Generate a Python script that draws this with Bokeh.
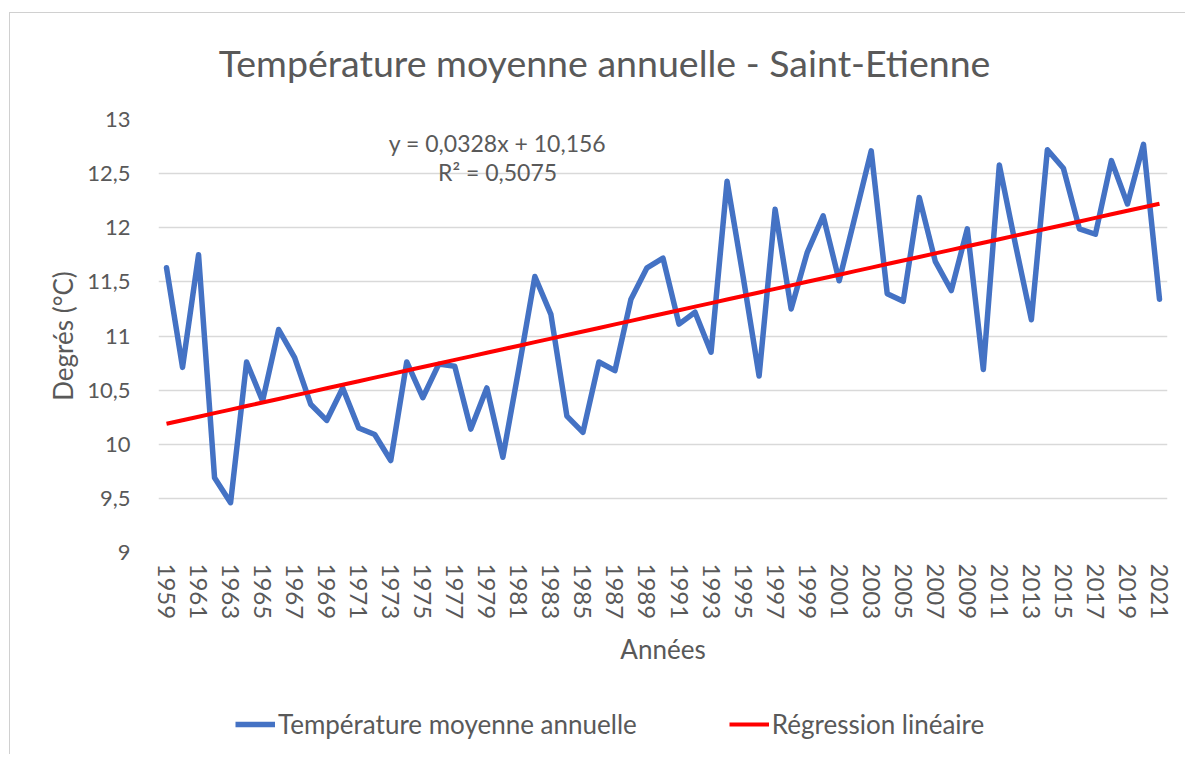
from bokeh.plotting import figure
from bokeh.layouts import column
from bokeh.models import (Label, Legend, LegendItem, FixedTicker,
                          CustomJSTickFormatter, Range1d)
from bokeh.embed import file_html
from bokeh.resources import INLINE

# ---------------- data ----------------
years = list(range(1959, 2022))
temperature = [
    11.63, 10.71, 11.75, 9.69, 9.46, 10.76, 10.40, 11.06, 10.80, 10.37,   # 1959-1968
    10.22, 10.52, 10.15, 10.09, 9.85, 10.76, 10.43, 10.74, 10.72, 10.14,   # 1969-1978
    10.52, 9.88, 10.70, 11.55, 11.20, 10.26, 10.11, 10.76, 10.68, 11.34,   # 1979-1988
    11.63, 11.72, 11.11, 11.22, 10.85, 12.43, 11.55, 10.63, 12.17, 11.25,  # 1989-1998
    11.77, 12.11, 11.51, 12.11, 12.71, 11.39, 11.32, 12.28, 11.69, 11.42,  # 1999-2008
    11.99, 10.69, 12.58, 11.85, 11.15, 12.72, 12.55, 11.99, 11.94, 12.62,  # 2009-2018
    12.22, 12.77, 11.34,                                                   # 2019-2021
]
reg_slope = 0.0328
reg_intercept = 10.156
y_ticks = [9, 9.5, 10, 10.5, 11, 11.5, 12, 12.5, 13]
x_ticks = years[::2]

title_text = "Température moyenne annuelle - Saint-Etienne"
equation_text = "y = 0,0328x + 10,156"
r2_text = "R² = 0,5075"
series_label = "Température moyenne annuelle"
reg_label = "Régression linéaire"
x_title = "Années"
y_title = "Degrés (°C)"

# regression line from the displayed equation (x = 1 for the first year)
reg_values = [reg_intercept + reg_slope * (yr - years[0] + 1) for yr in years]

# ---------------- style ----------------
FONT = "Lato"
GREY = "#595959"
GRID = "#d9d9d9"
BLUE = "#4472C4"
RED = "#FF0000"
EDGE = "1px solid #d0d0d0"

# ---------------- title strip (frame aligned with the chart by the column) ----------------
p0 = figure(width=1176, height=80, output_backend="svg", toolbar_location=None,
            x_range=Range1d(1958.5, 2021.5), y_range=Range1d(0, 1),
            x_axis_type=None, y_axis_type=None, min_border=0)
p0.styles = {"border-left": EDGE, "border-top": EDGE,
             "margin-top": "12px", "margin-left": "9px"}
p0.outline_line_color = None
p0.background_fill_color = "white"
p0.border_fill_color = "white"
p0.add_layout(Label(x=1986.35, y=0.39, text=title_text, text_align="center",
                    text_baseline="middle", text_font=FONT, text_font_size="37.5px",
                    text_color=GREY))

# ---------------- main chart ----------------
p = figure(width=1176, height=597, output_backend="svg", toolbar_location=None,
           x_range=p0.x_range, y_range=Range1d(9, 13),
           min_border_left=148, min_border_right=19,
           min_border_top=27, min_border_bottom=137)
p.styles = {"border-left": EDGE, "margin-left": "9px"}
p.outline_line_color = None
p.background_fill_color = "white"
p.border_fill_color = "white"

line_t = p.line(years, temperature, line_color=BLUE, line_width=5.5,
                line_join="round", line_cap="round")
line_r = p.line(years, reg_values, line_color=RED, line_width=4)

# x axis
p.xaxis.ticker = FixedTicker(ticks=x_ticks)
p.xaxis.major_label_orientation = "vertical"
p.xaxis.axis_line_color = None
p.xaxis.major_tick_line_color = None
p.xaxis.minor_tick_line_color = None
p.xaxis.major_label_standoff = 5
p.xaxis.major_label_text_font = FONT
p.xaxis.major_label_text_font_size = "24px"
p.xaxis.major_label_text_color = GREY
p.xaxis.axis_label = x_title
p.xaxis.axis_label_standoff = 11
p.xaxis.axis_label_text_font = FONT
p.xaxis.axis_label_text_font_size = "26px"
p.xaxis.axis_label_text_font_style = "normal"
p.xaxis.axis_label_text_color = GREY

# y axis
p.yaxis.ticker = FixedTicker(ticks=y_ticks)
p.yaxis.formatter = CustomJSTickFormatter(code="return tick.toString().replace('.', ',');")
p.yaxis.axis_line_color = None
p.yaxis.major_tick_line_color = None
p.yaxis.minor_tick_line_color = None
p.yaxis.major_label_standoff = 22
p.yaxis.major_label_text_font = FONT
p.yaxis.major_label_text_font_size = "22px"
p.yaxis.major_label_text_color = GREY
p.yaxis.axis_label = y_title
p.yaxis.axis_label_standoff = 5
p.yaxis.axis_label_text_font = FONT
p.yaxis.axis_label_text_font_size = "26px"
p.yaxis.axis_label_text_font_style = "normal"
p.yaxis.axis_label_text_color = GREY

# grid
p.xgrid.visible = False
p.ygrid.grid_line_color = GRID
p.ygrid.grid_line_width = 1.5

# regression text
p.add_layout(Label(x=1979.67, y=12.787, text=equation_text, text_align="center",
                   text_baseline="middle", text_font=FONT, text_font_size="23px",
                   text_color=GREY))
p.add_layout(Label(x=1979.67, y=12.519, text=r2_text, text_align="center",
                   text_baseline="middle", text_font=FONT, text_font_size="23px",
                   text_color=GREY))

# ---------------- legend strip under the chart ----------------
p2 = figure(width=1176, height=65, output_backend="svg", toolbar_location=None,
            x_range=Range1d(0, 1), y_range=Range1d(0, 1),
            x_axis_type=None, y_axis_type=None, min_border=0)
p2.styles = {"border-left": EDGE, "margin-left": "9px"}
p2.outline_line_color = None
p2.background_fill_color = "white"
p2.border_fill_color = "white"
# same series, outside this strip's view: only their legend glyphs show
leg_t = p2.line(years, temperature, line_color=BLUE, line_width=5.5)
leg_r = p2.line(years, reg_values, line_color=RED, line_width=4)

legend = Legend(items=[LegendItem(label=series_label, renderers=[leg_t]),
                       LegendItem(label=reg_label, renderers=[leg_r])],
                orientation="horizontal", location=(77, 14),
                padding=0, margin=0, spacing=92, glyph_width=40,
                label_standoff=3, border_line_color=None, background_fill_alpha=0,
                label_text_font=FONT, label_text_font_size="26px",
                label_text_color=GREY)
p2.add_layout(legend)

layout = column(p0, p, p2, spacing=0)
open("out.html", "w").write(file_html(layout, INLINE))
